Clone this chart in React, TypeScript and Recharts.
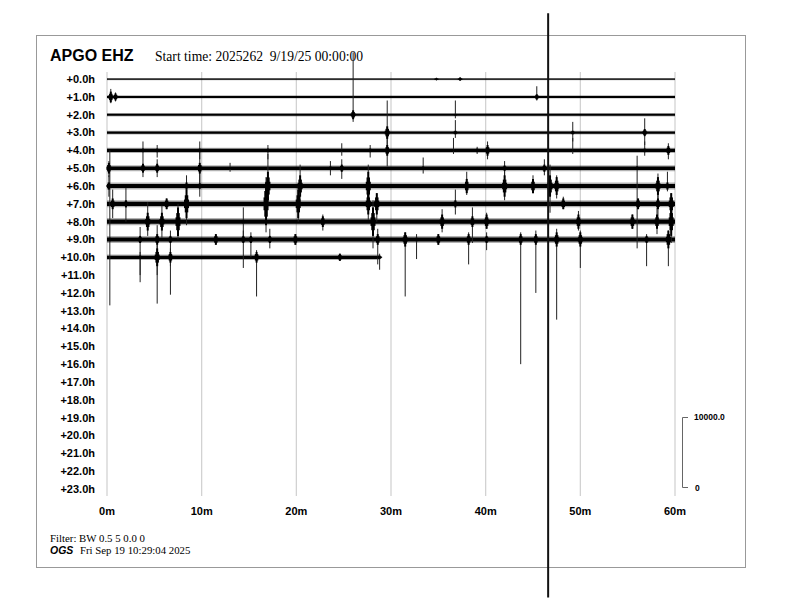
import {
  ComposedChart,
  XAxis,
  YAxis,
  CartesianGrid,
  ReferenceArea,
  ReferenceLine,
  Scatter,
  ErrorBar,
} from 'recharts'

// hour offsets of each helicorder line and the minute ticks along it
const hourTicks = [0, 1, 2, 3, 4, 5, 6, 7, 8, 9, 10, 11, 12, 13, 14, 15, 16, 17, 18, 19, 20, 21, 22, 23]
const minuteTicks = [0, 10, 20, 30, 40, 50, 60]

// background noise half-width per recorded hour (in line spacings) and where each line stops
const rowNoise = [0.035, 0.055, 0.055, 0.06, 0.085, 0.1, 0.115, 0.115, 0.12, 0.115, 0.09]
const rowEnd = [60, 60, 60, 60, 60, 60, 60, 60, 60, 60, 28.8]

// [hour, minute, swing up, swing down, coda half-height]
const events: [number, number, number, number, number][] = [
  [0, 34.8, 0.08, 0.08, 0.05], [0, 37.3, 0.12, 0.1, 0.08],
  [1, 0.4, 0.45, 0.35, 0.3], [1, 0.9, 0.25, 0.25, 0.2], [1, 45.4, 0.6, 0.2, 0.15],
  [2, 26.0, 3.5, 0.4, 0.25], [2, 36.8, 0.8, 0.2, 0.05],
  [3, 29.6, 1.8, 0.9, 0.35], [3, 36.8, 0.7, 0.3, 0.1], [3, 49.2, 0.6, 0.5, 0.1], [3, 56.8, 0.8, 0.7, 0.2],
  [4, 3.8, 0.5, 0.6, 0.1], [4, 5.3, 0.3, 0.4, 0.1], [4, 9.8, 0.5, 0.5, 0.1], [4, 17.0, 0.3, 0.5, 0.1],
  [4, 24.8, 0.4, 0.3, 0.05], [4, 27.8, 0.3, 0.4, 0.1], [4, 29.6, 1.0, 0.9, 0.3], [4, 36.6, 0.7, 0.2, 0.05],
  [4, 39.1, 0.2, 0.2, 0.1], [4, 40.2, 0.5, 0.5, 0.3], [4, 49.2, 0.7, 0.2, 0.05], [4, 56.8, 0.5, 0.3, 0.1],
  [4, 59.3, 0.4, 0.5, 0.25],
  [5, 0.2, 0.4, 0.5, 0.3], [5, 3.8, 0.4, 0.5, 0.25], [5, 5.3, 0.5, 0.5, 0.25], [5, 9.8, 1.0, 1.0, 0.3],
  [5, 13.0, 0.3, 0.2, 0.05], [5, 23.6, 0.4, 0.4, 0.1], [5, 24.8, 0.5, 0.6, 0.2], [5, 33.4, 0.6, 0.3, 0.1],
  [5, 42.0, 0.4, 0.6, 0.15], [5, 46.2, 0.5, 0.4, 0.2], [5, 56.0, 0.7, 4.5, 0.1],
  [6, 0.2, 0.6, 0.6, 0.2], [6, 8.4, 0.6, 0.7, 0.2], [6, 9.8, 1.0, 0.6, 0.15], [6, 17.0, 1.8, 1.0, 0.8],
  [6, 20.4, 1.2, 0.8, 0.6], [6, 27.6, 1.2, 1.1, 0.8], [6, 38.0, 0.8, 0.5, 0.4], [6, 42.0, 0.9, 0.8, 0.6],
  [6, 45.0, 0.6, 0.4, 0.4], [6, 46.8, 1.2, 1.5, 0.6], [6, 47.5, 0.6, 0.7, 0.5], [6, 58.2, 0.7, 0.8, 0.5],
  [6, 59.2, 0.8, 0.3, 0.2],
  [7, 0.6, 0.8, 0.8, 0.3], [7, 2.0, 0.9, 1.0, 0.2], [7, 6.3, 0.3, 0.3, 0.3], [7, 8.4, 1.3, 1.2, 0.8],
  [7, 16.8, 1.5, 1.6, 1.2], [7, 20.2, 1.0, 1.0, 0.8], [7, 27.6, 0.8, 0.9, 0.6], [7, 28.5, 0.6, 1.0, 0.6],
  [7, 36.8, 0.8, 0.6, 0.2], [7, 48.2, 0.4, 0.3, 0.3], [7, 56.1, 0.3, 0.3, 0.3], [7, 58.2, 0.8, 0.9, 0.3],
  [7, 59.6, 0.6, 0.8, 0.6],
  [8, 4.3, 1.1, 0.8, 0.5], [8, 5.8, 0.9, 0.9, 0.5], [8, 7.5, 1.0, 1.0, 0.8], [8, 14.4, 0.8, 1.2, 0.1],
  [8, 22.8, 0.4, 0.5, 0.3], [8, 28.1, 1.2, 1.5, 0.8], [8, 35.4, 0.7, 0.6, 0.4], [8, 38.6, 0.8, 1.2, 0.3],
  [8, 40.1, 0.5, 0.4, 0.4], [8, 49.8, 0.6, 0.5, 0.4], [8, 55.5, 0.4, 0.4, 0.4], [8, 58.1, 0.8, 0.7, 0.4],
  [8, 59.6, 1.0, 1.2, 0.8],
  [9, 0.3, 5.0, 3.7, 0.1], [9, 3.5, 0.7, 2.4, 0.2], [9, 5.3, 0.8, 2.0, 0.3], [9, 6.7, 0.5, 1.5, 0.2],
  [9, 11.5, 0.3, 0.3, 0.3], [9, 14.4, 0.5, 1.6, 0.2], [9, 15.2, 0.4, 1.0, 0.2], [9, 17.2, 0.6, 0.5, 0.2],
  [9, 19.9, 0.3, 0.3, 0.3], [9, 28.6, 0.6, 1.4, 0.3], [9, 31.5, 0.4, 3.2, 0.4], [9, 32.7, 0.3, 1.1, 0.1],
  [9, 35.0, 0.3, 0.3, 0.3], [9, 38.2, 0.4, 1.4, 0.3], [9, 40.1, 0.4, 0.6, 0.2], [9, 43.7, 0.4, 7.0, 0.3],
  [9, 45.3, 0.5, 3.0, 0.3], [9, 47.5, 0.6, 4.5, 0.4], [9, 50.0, 0.5, 1.6, 0.4], [9, 57.0, 0.3, 1.5, 0.2],
  [9, 59.3, 0.5, 1.5, 0.5],
  [10, 3.5, 0.3, 1.0, 0.1], [10, 5.3, 0.7, 2.6, 0.5], [10, 6.7, 0.5, 2.1, 0.3], [10, 15.8, 0.4, 2.2, 0.3],
  [10, 24.6, 0.2, 0.2, 0.2], [10, 28.8, 0.2, 0.7, 0.1],
]

// time-of-plot marker
const markerMinute = 46.6
const markerSpan = [-3.7, 29.1]

// each coda is drawn as three stacked bars that narrow towards the tips
const points = events.map(([row, t, up, down, body]) => ({
  row,
  t,
  spike: [up, down],
  body: [body, body],
  mid: [body * 0.6, body * 0.6],
  core: [body * 0.3, body * 0.3],
}))

const axisFont = {
  fill: '#000',
  fontSize: 11,
  fontWeight: 700,
  fontFamily: 'Liberation Sans, Arial, sans-serif',
}
const serif = 'Liberation Serif, Times New Roman, serif'
const sans = 'Liberation Sans, Arial, sans-serif'

export default function App() {
  return (
    <div style={{ position: 'absolute', left: 0, top: 0, width: 792, height: 612, background: '#fff' }}>
      <svg width={792} height={612} style={{ position: 'absolute', left: 0, top: 0 }}>
        <rect x={36.5} y={35.5} width={709} height={532} fill="none" stroke="#999" />
        <text x={50} y={61} fontFamily={sans} fontWeight={700} fontSize={16}>APGO EHZ</text>
        <text x={155} y={61} fontFamily={serif} fontSize={13.6} style={{ whiteSpace: 'pre' }}>
          Start time: 2025262  9/19/25 00:00:00
        </text>
        <text x={50} y={542} fontFamily={serif} fontSize={10.8}>Filter: BW 0.5 5 0.0 0</text>
        <text x={50} y={554} fontFamily={sans} fontWeight={700} fontStyle="italic" fontSize={10.5}>OGS</text>
        <text x={80} y={554} fontFamily={serif} fontSize={10.8}>Fri Sep 19 10:29:04 2025</text>
        <path d="M688 417.5 H682.5 V487.5 H688" fill="none" stroke="#666" />
        <text x={694} y={420} fontFamily={sans} fontWeight={700} fontSize={8.5}>10000.0</text>
        <text x={695} y={491} fontFamily={sans} fontWeight={700} fontSize={8.5}>0</text>
      </svg>
      <div style={{ position: 'absolute', left: 0, top: 0 }}>
        <ComposedChart width={792} height={612} margin={{ top: 72, right: 117, bottom: 86, left: 47 }}>
          <CartesianGrid horizontal={false} stroke="#cfcfcf" strokeWidth={1.2} />
          <XAxis
            type="number"
            dataKey="t"
            domain={[0, 60]}
            ticks={minuteTicks}
            tickFormatter={(v: number) => `${v}m`}
            axisLine={false}
            tickLine={false}
            height={30}
            tickMargin={5}
            tick={axisFont}
            allowDataOverflow
          />
          <YAxis
            type="number"
            dataKey="row"
            domain={[-0.4, 23.4]}
            reversed
            ticks={hourTicks}
            interval={0}
            tickFormatter={(v: number) => `+${v.toFixed(1)}h`}
            width={60}
            axisLine={false}
            tickLine={false}
            tickMargin={6}
            tick={axisFont}
            allowDataOverflow
          />
          {rowEnd.map((end, r) => (
            <ReferenceArea
              key={`fuzz-${r}`}
              x1={0}
              x2={end}
              y1={r - rowNoise[r] * 1.7}
              y2={r + rowNoise[r] * 1.7}
              fill="#000"
              fillOpacity={0.3}
              stroke="none"
            />
          ))}
          {rowEnd.map((end, r) => (
            <ReferenceArea
              key={`trace-${r}`}
              x1={0}
              x2={end}
              y1={r - rowNoise[r]}
              y2={r + rowNoise[r]}
              fill="#000"
              fillOpacity={1}
              stroke="none"
            />
          ))}
          <Scatter data={points} shape={() => <g />} isAnimationActive={false}>
            <ErrorBar dataKey="spike" direction="y" width={0} stroke="#222" strokeWidth={1} isAnimationActive={false} />
            <ErrorBar dataKey="body" direction="y" width={0} stroke="#000" strokeWidth={2} isAnimationActive={false} />
            <ErrorBar dataKey="mid" direction="y" width={0} stroke="#000" strokeWidth={3.5} isAnimationActive={false} />
            <ErrorBar dataKey="core" direction="y" width={0} stroke="#000" strokeWidth={5} isAnimationActive={false} />
          </Scatter>
          <ReferenceLine
            segment={[
              { x: markerMinute, y: markerSpan[0] },
              { x: markerMinute, y: markerSpan[1] },
            ]}
            stroke="#111"
            strokeWidth={2}
            ifOverflow="visible"
          />
        </ComposedChart>
      </div>
    </div>
  )
}
